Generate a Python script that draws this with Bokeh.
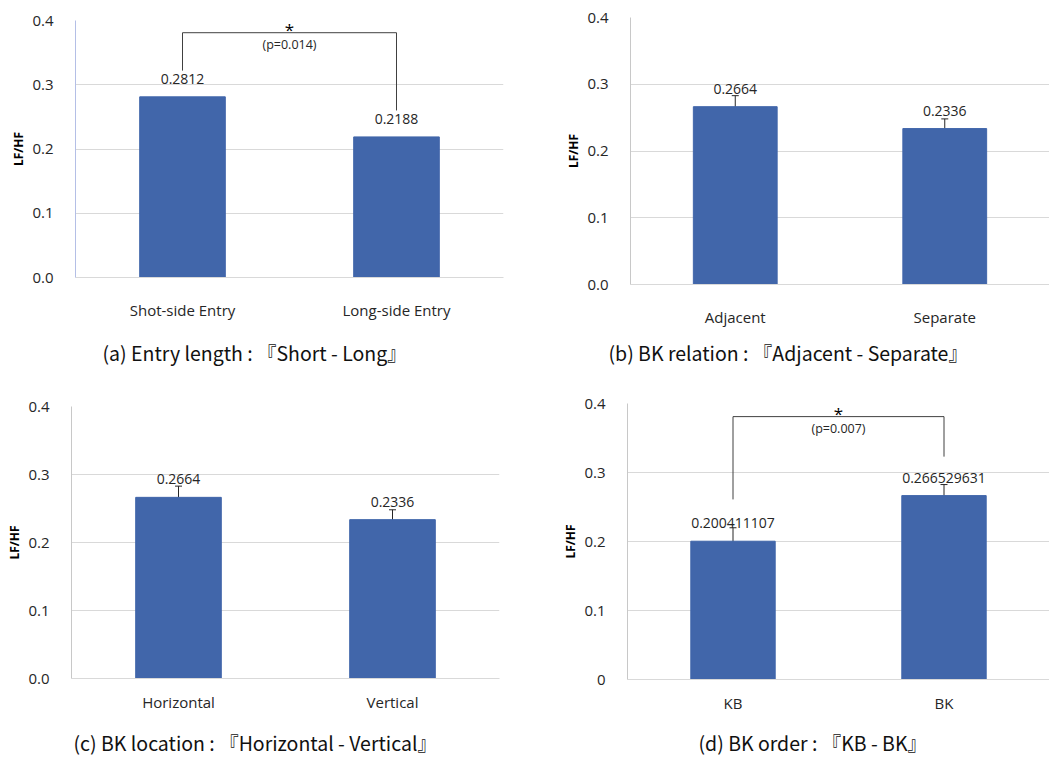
from bokeh.plotting import figure
from bokeh.models import ColumnDataSource, Range1d, FixedTicker, Whisker, TeeHead
from bokeh.layouts import column, row
from bokeh.embed import file_html
from bokeh.resources import INLINE
from bokeh.core.properties import value

# ---------------- data ----------------
cats_a = ["Shot-side Entry", "Long-side Entry"]
vals_a = [0.2812, 0.2188]
labels_a = ["0.2812", "0.2188"]
p_a = "(p=0.014)"

cats_b = ["Adjacent", "Separate"]
vals_b = [0.2664, 0.2336]
err_b = [0.0165, 0.0145]
labels_b = ["0.2664", "0.2336"]

cats_c = ["Horizontal", "Vertical"]
vals_c = [0.2664, 0.2336]
err_c = [0.0165, 0.0145]
labels_c = ["0.2664", "0.2336"]

cats_d = ["KB", "BK"]
vals_d = [0.200411107, 0.266529631]
err_d = [0.0195, 0.016]
labels_d = ["0.200411107", "0.266529631"]
p_d = "(p=0.007)"

# significance bracket: left end, top level, right end
bracket_a = [0.322, 0.381, 0.260]
bracket_d = [0.261, 0.381, 0.323]

y_ticks = [0.0, 0.1, 0.2, 0.3, 0.4]

captions = [
    "(a) Entry length : 『Short - Long』",
    "(b) BK relation : 『Adjacent - Separate』",
    "(c) BK location : 『Horizontal - Vertical』",
    "(d) BK order : 『KB - BK』",
]

BAR = "#4166AA"
GRID = "#d9d9d9"
FONT = "Open Sans"
CAPFONT = "Noto Sans CJK KR"
TXT = "#262626"


def make(cats, vals, labels, width, height, mbl, mbr, mbt, mbb,
         yaxis_color, xstand, err=None, bracket=None, ptxt=None, zero_label="0.0"):
    p = figure(width=width, height=height, output_backend="svg", toolbar_location=None,
               x_range=Range1d(0, len(cats)), y_range=Range1d(0, 0.4),
               min_border_left=mbl, min_border_right=mbr, min_border_top=mbt,
               min_border_bottom=mbb)
    xs = [i + 0.5 for i in range(len(cats))]
    src = ColumnDataSource(dict(x=xs, top=vals, lab=labels))
    p.vbar(x="x", top="top", width=0.4, bottom=0, source=src, fill_color=BAR, line_color=BAR)
    if err is not None:
        src.data["up"] = [v + e for v, e in zip(vals, err)]
        src.data["lo"] = [v - e for v, e in zip(vals, err)]
        w = Whisker(base="x", upper="up", lower="lo", source=src,
                    line_color="#262626", line_width=1,
                    upper_head=TeeHead(size=7, line_color="#262626", line_width=1),
                    lower_head=TeeHead(size=7, line_color="#262626", line_width=1))
        p.add_layout(w)
    p.text(x="x", y="top", text="lab", source=src, text_align="center",
           text_baseline="middle", y_offset=-18, text_font=value(FONT),
           text_font_size="14px", text_color=TXT)
    if bracket is not None:
        bx = [xs[0], xs[0], xs[1], xs[1]]
        by = [bracket[0], bracket[1], bracket[1], bracket[2]]
        p.line(bx, by, line_color="#404040", line_width=1)
        mid = (xs[0] + xs[1]) / 2
        p.text(x=[mid], y=[bracket[1]], text=["*"], text_align="center",
               text_baseline="middle", y_offset=-3, text_font=value(FONT),
               text_font_size="17px", text_color="#000000")
        p.text(x=[mid], y=[bracket[1]], text=[ptxt], text_align="center",
               text_baseline="middle", y_offset=12, text_font=value(FONT),
               text_font_size="12.5px", text_color=TXT)

    p.outline_line_color = None
    p.xgrid.grid_line_color = None
    p.ygrid.grid_line_color = GRID
    p.ygrid.ticker = FixedTicker(ticks=y_ticks)

    p.xaxis.ticker = FixedTicker(ticks=xs)
    p.xaxis.major_label_overrides = {x: c for x, c in zip(xs, cats)}
    p.xaxis.axis_line_color = GRID
    p.xaxis.major_tick_line_color = None
    p.xaxis.minor_tick_line_color = None
    p.xaxis.major_label_standoff = xstand
    p.xaxis.major_label_text_font = FONT
    p.xaxis.major_label_text_font_size = "15px"
    p.xaxis.major_label_text_color = TXT

    p.yaxis.ticker = FixedTicker(ticks=y_ticks)
    p.yaxis.major_label_overrides = {t: (zero_label if t == 0 else f"{t:.1f}") for t in y_ticks}
    p.yaxis.axis_line_color = yaxis_color
    p.yaxis.major_tick_line_color = None
    p.yaxis.minor_tick_line_color = None
    p.yaxis.major_label_standoff = 16
    p.yaxis.major_label_text_font = FONT
    p.yaxis.major_label_text_font_size = "15px"
    p.yaxis.major_label_text_color = TXT
    p.yaxis.axis_label = "LF/HF"
    p.yaxis.axis_label_text_font = FONT
    p.yaxis.axis_label_text_font_style = "bold"
    p.yaxis.axis_label_text_font_size = "12px"
    p.yaxis.axis_label_text_color = "#000000"
    p.yaxis.axis_label_standoff = 2
    return p


def caption_fig(text, width, height, dx, cy):
    c = figure(width=width, height=height, output_backend="svg", toolbar_location=None,
               x_range=Range1d(0, 1), y_range=Range1d(0, 1),
               x_axis_location=None, y_axis_location=None, min_border=0)
    c.outline_line_color = None
    c.grid.grid_line_color = None
    c.text(x=[0], y=[1], text=[text], x_offset=dx, y_offset=cy, text_align="left",
           text_baseline="middle", text_font=value(CAPFONT), text_font_size="19.5px",
           text_color="#111111")
    return c


pa = make(cats_a, vals_a, labels_a, 528, 330, 75, 25, 20, 53, "#b4bfe6", 16,
          bracket=bracket_a, ptxt=p_a)
pb = make(cats_b, vals_b, labels_b, 521, 330, 102, 0, 17, 46, "#c8c8c8", 16, err=err_b)
pc = make(cats_c, vals_c, labels_c, 528, 339, 71, 29, 30, 37, "#c8c8c8", 7, err=err_c)
pd = make(cats_d, vals_d, labels_d, 521, 339, 99, 0, 27, 36, "#c8c8c8", 7,
          err=err_d, bracket=bracket_d, ptxt=p_d, zero_label="0")

ca = caption_fig(captions[0], 528, 46, 102, 22)
cb = caption_fig(captions[1], 521, 46, 80, 22)
cc = caption_fig(captions[2], 528, 42, 73, 27)
cd = caption_fig(captions[3], 521, 42, 170, 27)

layout = column(row(column(pa), column(pb)), row(column(ca), column(cb)),
                row(column(pc), column(pd)), row(column(cc), column(cd)))
open("out.html", "w").write(file_html(layout, INLINE))
